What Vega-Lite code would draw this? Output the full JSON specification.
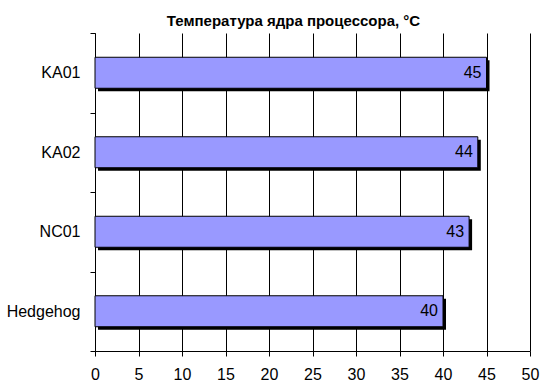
{
  "$schema": "https://vega.github.io/schema/vega-lite/v6.json",
  "width": 435,
  "height": 318,
  "autosize": "none",
  "padding": {"left": 95, "top": 33, "right": 20, "bottom": 39},
  "background": "white",
  "title": {
    "text": "Температура ядра процессора, °C",
    "font": "Liberation Sans",
    "fontSize": 15,
    "fontWeight": "bold",
    "color": "black",
    "anchor": "middle",
    "dx": -19,
    "offset": -4
  },
  "data": {
    "values": [
      {"name": "KA01", "v": 45},
      {"name": "KA02", "v": 44},
      {"name": "NC01", "v": 43},
      {"name": "Hedgehog", "v": 40}
    ]
  },
  "encoding": {
    "y": {
      "field": "name",
      "type": "nominal",
      "sort": null,
      "scale": {"paddingInner": 0, "paddingOuter": 0},
      "axis": {
        "title": null,
        "tickBand": "extent",
        "grid": false,
        "domainColor": "black",
        "tickColor": "black",
        "tickSize": 5,
        "labelPadding": 10,
        "labelFont": "Liberation Sans",
        "labelFontSize": 16,
        "labelFontWeight": "normal",
        "labelColor": "black"
      }
    },
    "x": {
      "field": "v",
      "type": "quantitative",
      "scale": {"domain": [0, 50], "nice": false},
      "axis": {
        "title": null,
        "values": [0, 5, 10, 15, 20, 25, 30, 35, 40, 45, 50],
        "grid": true,
        "gridColor": "black",
        "gridOpacity": 1,
        "gridWidth": 1,
        "domainColor": "black",
        "tickColor": "black",
        "tickSize": 5,
        "labelPadding": 10,
        "labelFont": "Liberation Sans",
        "labelFontSize": 16,
        "labelFontWeight": "normal",
        "labelColor": "black",
        "labelFlush": false
      }
    }
  },
  "layer": [
    {"mark": {"type": "bar", "color": "black", "height": 31, "xOffset": 3, "yOffset": 3}},
    {"mark": {"type": "bar", "fill": "#9999FF", "stroke": "black", "strokeWidth": 1, "height": 31}},
    {
      "mark": {"type": "text", "align": "right", "baseline": "middle", "dx": -5, "font": "Liberation Sans", "fontSize": 16, "fontWeight": "normal", "color": "black"},
      "encoding": {"text": {"field": "v", "type": "quantitative"}}
    }
  ],
  "config": {"view": {"stroke": null}}
}
